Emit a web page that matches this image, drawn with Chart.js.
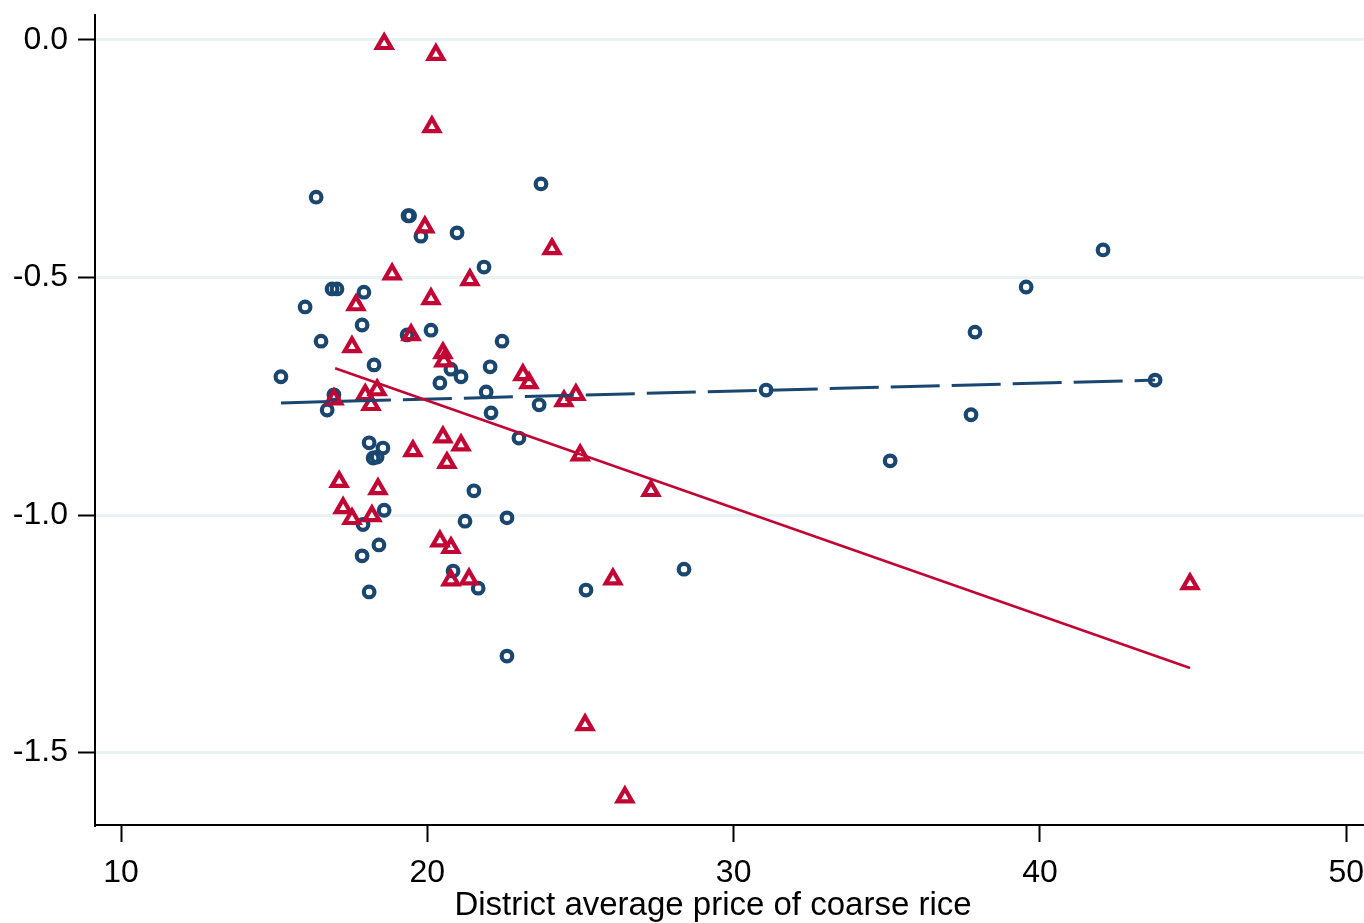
<!DOCTYPE html>
<html>
<head>
<meta charset="utf-8">
<script src="https://cdn.jsdelivr.net/npm/chart.js@4"></script>
<style>
  html, body { margin: 0; padding: 0; background: #fff; overflow: hidden; }
  #wrap { width: 1364px; height: 923px; }
</style>
</head>
<body>
<div id="wrap"><canvas id="riceChart" width="1364" height="923"></canvas></div>
<script>
// blue circles
const blueX = [15.22, 16.37, 16.01, 16.53, 16.73, 16.89, 17.05, 16.95, 17.93, 17.87,
  18.26, 18.10, 18.55, 18.23, 18.36, 18.59, 17.90, 18.42, 17.87, 18.10,
  19.37, 19.42, 19.79, 19.34, 20.12, 20.41, 20.77, 21.10, 20.97, 21.85,
  22.44, 22.05, 21.92, 22.08, 21.52, 21.23, 20.84, 21.66, 22.60, 22.60,
  22.99, 23.65, 23.71, 25.18, 28.38, 31.06, 35.11, 37.75, 37.88, 39.55,
  42.06, 43.76];
const blueY = [-0.709, -0.331, -0.562, -0.634, -0.779, -0.524, -0.524, -0.747, -0.531, -0.600,
  -0.684, -0.848, -0.859, -0.880, -0.878, -0.990, -1.020, -1.063, -1.086, -1.162,
  -0.370, -0.370, -0.413, -0.621, -0.611, -0.722, -0.693, -0.709, -0.406, -0.478,
  -0.634, -0.688, -0.741, -0.785, -0.949, -1.013, -1.118, -1.154, -1.006, -1.297,
  -0.838, -0.768, -0.303, -1.158, -1.114, -0.737, -0.886, -0.789, -0.615, -0.520,
  -0.442, -0.716];

// red triangles
const redX = [18.59, 20.28, 20.15, 19.92, 24.07, 18.85, 21.39, 20.12, 17.67, 19.47,
  17.54, 20.51, 20.54, 16.95, 18.36, 17.97, 18.16, 23.12, 23.32, 24.46,
  24.85, 20.51, 21.10, 19.53, 20.64, 24.99, 27.30, 17.12, 18.39, 17.25,
  17.54, 18.19, 20.41, 20.77, 20.77, 21.36, 26.06, 44.90, 25.15, 26.45];
const redY = [-0.008, -0.031, -0.183, -0.394, -0.440, -0.493, -0.505, -0.545, -0.558, -0.621,
  -0.646, -0.659, -0.676, -0.756, -0.737, -0.747, -0.768, -0.705, -0.722, -0.760,
  -0.747, -0.836, -0.853, -0.865, -0.890, -0.874, -0.949, -0.930, -0.945, -0.985,
  -1.008, -1.002, -1.055, -1.069, -1.137, -1.135, -1.135, -1.145, -1.442, -1.594];

// fitted lines (end points)
const blueFitX = [15.22, 43.76];
const blueFitY = [-0.764, -0.716];
const redFitX = [16.99, 44.90];
const redFitY = [-0.691, -1.322];

const xTicks = [10, 20, 30, 40, 50];
const yTicks = [0, -0.5, -1, -1.5];
const yTickLabels = ["0.0", "-0.5", "-1.0", "-1.5"];
const xTitle = "District average price of coarse rice";

const BLUE = "#1a476f";
const RED = "#c10534";
const FONT = "Arial, 'Liberation Sans', sans-serif";

function pts(xs, ys) {
  return xs.map((x, i) => ({ x: x, y: ys[i] }));
}

// x axis title sits a little left of the plot centre in the original
const xTitlePlugin = {
  id: "xTitle",
  afterDraw(chart) {
    const c = chart.ctx;
    c.save();
    c.fillStyle = "#000";
    c.font = "33px " + FONT;
    c.textAlign = "center";
    c.textBaseline = "middle";
    c.fillText(xTitle, 713, 906);
    c.restore();
  },
};

const ctx = document.getElementById("riceChart");

new Chart(ctx, {
  type: "scatter",
  data: {
    datasets: [
      {
        data: pts(blueX, blueY),
        pointStyle: "circle",
        pointRadius: 5.3,
        borderWidth: 4.2,
        borderColor: BLUE,
        backgroundColor: "rgba(0,0,0,0)",
        order: 4,
      },
      {
        data: pts(redX, redY),
        pointStyle: "triangle",
        pointRadius: 8.4,
        borderWidth: 4.2,
        borderColor: RED,
        backgroundColor: "rgba(0,0,0,0)",
        order: 3,
      },
      {
        type: "line",
        data: pts(blueFitX, blueFitY),
        borderColor: BLUE,
        borderWidth: 3,
        borderDash: [49, 12],
        pointRadius: 0,
        fill: false,
        order: 2,
      },
      {
        type: "line",
        data: pts(redFitX, redFitY),
        borderColor: RED,
        borderWidth: 2.5,
        pointRadius: 0,
        fill: false,
        order: 1,
      },
    ],
  },
  options: {
    responsive: false,
    animation: false,
    layout: { autoPadding: false, padding: { top: 15, right: 0, left: 0, bottom: 0 } },
    plugins: { legend: { display: false }, tooltip: { enabled: false } },
    scales: {
      x: {
        type: "linear",
        min: 9.15,
        max: 50.58,
        afterBuildTicks: (axis) => {
          axis.ticks = xTicks.map((v) => ({ value: v }));
        },
        afterFit: (scale) => {
          scale.height = 98;
          scale.paddingLeft = 0;
          scale.paddingRight = 0;
        },
        grid: {
          drawOnChartArea: false,
          drawTicks: true,
          tickLength: 17,
          tickColor: "#000",
          tickWidth: 2,
        },
        border: { display: true, color: "#000", width: 2 },
        ticks: {
          color: "#000",
          font: { family: FONT, size: 32 },
          padding: 12,
          maxRotation: 0,
          autoSkip: false,
        },
      },
      y: {
        type: "linear",
        min: -1.6526,
        max: 0.0526,
        afterBuildTicks: (axis) => {
          axis.ticks = yTicks.map((v) => ({ value: v }));
        },
        afterFit: (scale) => {
          scale.width = 95;
          scale.paddingTop = 0;
          scale.paddingBottom = 0;
        },
        grid: {
          color: "#eaf2f3",
          lineWidth: 3,
          drawTicks: true,
          tickLength: 17,
          tickColor: "#000",
          tickWidth: 2,
        },
        border: { display: true, color: "#000", width: 2 },
        ticks: {
          color: "#000",
          font: { family: FONT, size: 32 },
          padding: 10,
          autoSkip: false,
          callback: (value) => {
            const i = yTicks.indexOf(value);
            return i >= 0 ? yTickLabels[i] : "";
          },
        },
      },
    },
  },
  plugins: [xTitlePlugin],
});
</script>
</body>
</html>
